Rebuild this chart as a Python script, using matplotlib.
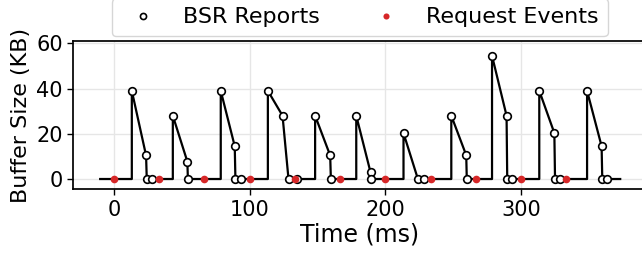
import matplotlib
matplotlib.use("Agg")
import matplotlib.pyplot as plt

# BSR report times (ms) and buffer sizes (KB)
bsr_t = [13.3, 23.8, 24.3, 28.5,
         43.5, 54.2, 54.6,
         78.8, 89.1, 89.6, 93.6,
         113.5, 124.3, 128.7, 134.8,
         148.3, 159.4, 159.9,
         178.6, 189.1, 189.6,
         213.4, 224.0, 228.2,
         248.6, 259.6, 260.0,
         278.6, 289.3, 289.8, 293.3,
         313.4, 324.5, 325.0, 328.4,
         348.6, 359.3, 359.8, 363.5]
bsr_v = [39, 10.4, 0, 0,
         28, 7.7, 0,
         39, 14.5, 0, 0,
         39, 28, 0, 0,
         28, 10.4, 0,
         28, 3.0, 0,
         20.3, 0, 0,
         28, 10.5, 0,
         54.5, 28, 0, 0,
         39, 20.3, 0, 0,
         39, 14.5, 0, 0]
# index of the first report (peak) in each cycle
cycle_starts = [0, 4, 7, 11, 15, 18, 21, 24, 27, 31, 35]
line_start_t = -10.0
line_end_t = 373.0

# request events
req_t = [0, 33.3, 66.7, 100, 133.3, 166.7, 200, 233.3, 266.7, 300, 333.3]
req_v = [0] * len(req_t)

# build buffer trace: flat at 0, vertical rise at each peak report, then through the reports
line_t = [line_start_t]
line_v = [0]
for i in range(len(bsr_t)):
    if i in cycle_starts:
        line_t.append(bsr_t[i]); line_v.append(0)
    line_t.append(bsr_t[i]); line_v.append(bsr_v[i])
line_t.append(line_end_t); line_v.append(0)

fig = plt.figure(figsize=(6.42, 2.54), dpi=100)
ax = fig.add_axes([73.3/642, 1-189.3/254, (646-73.3)/642, (189.3-40.7)/254])

ax.grid(True, color="#e6e6e6", linewidth=1.0, zorder=0)
ax.set_axisbelow(True)
ax.plot(line_t, line_v, color="black", linewidth=1.6, zorder=2)
ax.plot(bsr_t, bsr_v, linestyle="none", marker="o", markersize=5.5,
        markerfacecolor="white", markeredgecolor="black", markeredgewidth=1.2,
        label="BSR Reports", zorder=3)
ax.plot(req_t, req_v, linestyle="none", marker="o", markersize=5.5,
        color="#d62728", markeredgewidth=0, label="Request Events", zorder=4)

ax.set_xlim(-29.8, 392)
ax.set_ylim(-4.55, 61.15)
ax.set_xticks([0, 100, 200, 300])
ax.set_yticks([0, 20, 40, 60])
ax.tick_params(labelsize=15, length=4, width=1)
for s in ax.spines.values():
    s.set_linewidth(1.25)
ax.set_xlabel("Time (ms)", fontsize=17, labelpad=2)
ax.set_ylabel("Buffer Size (KB)", fontsize=16, labelpad=4)

ax.legend(loc="lower center", bbox_to_anchor=(0.5, 1.0), ncol=2, fontsize=16,
          borderaxespad=0.2, markerscale=0.8, frameon=True)

fig.savefig("out.png", dpi=100)
